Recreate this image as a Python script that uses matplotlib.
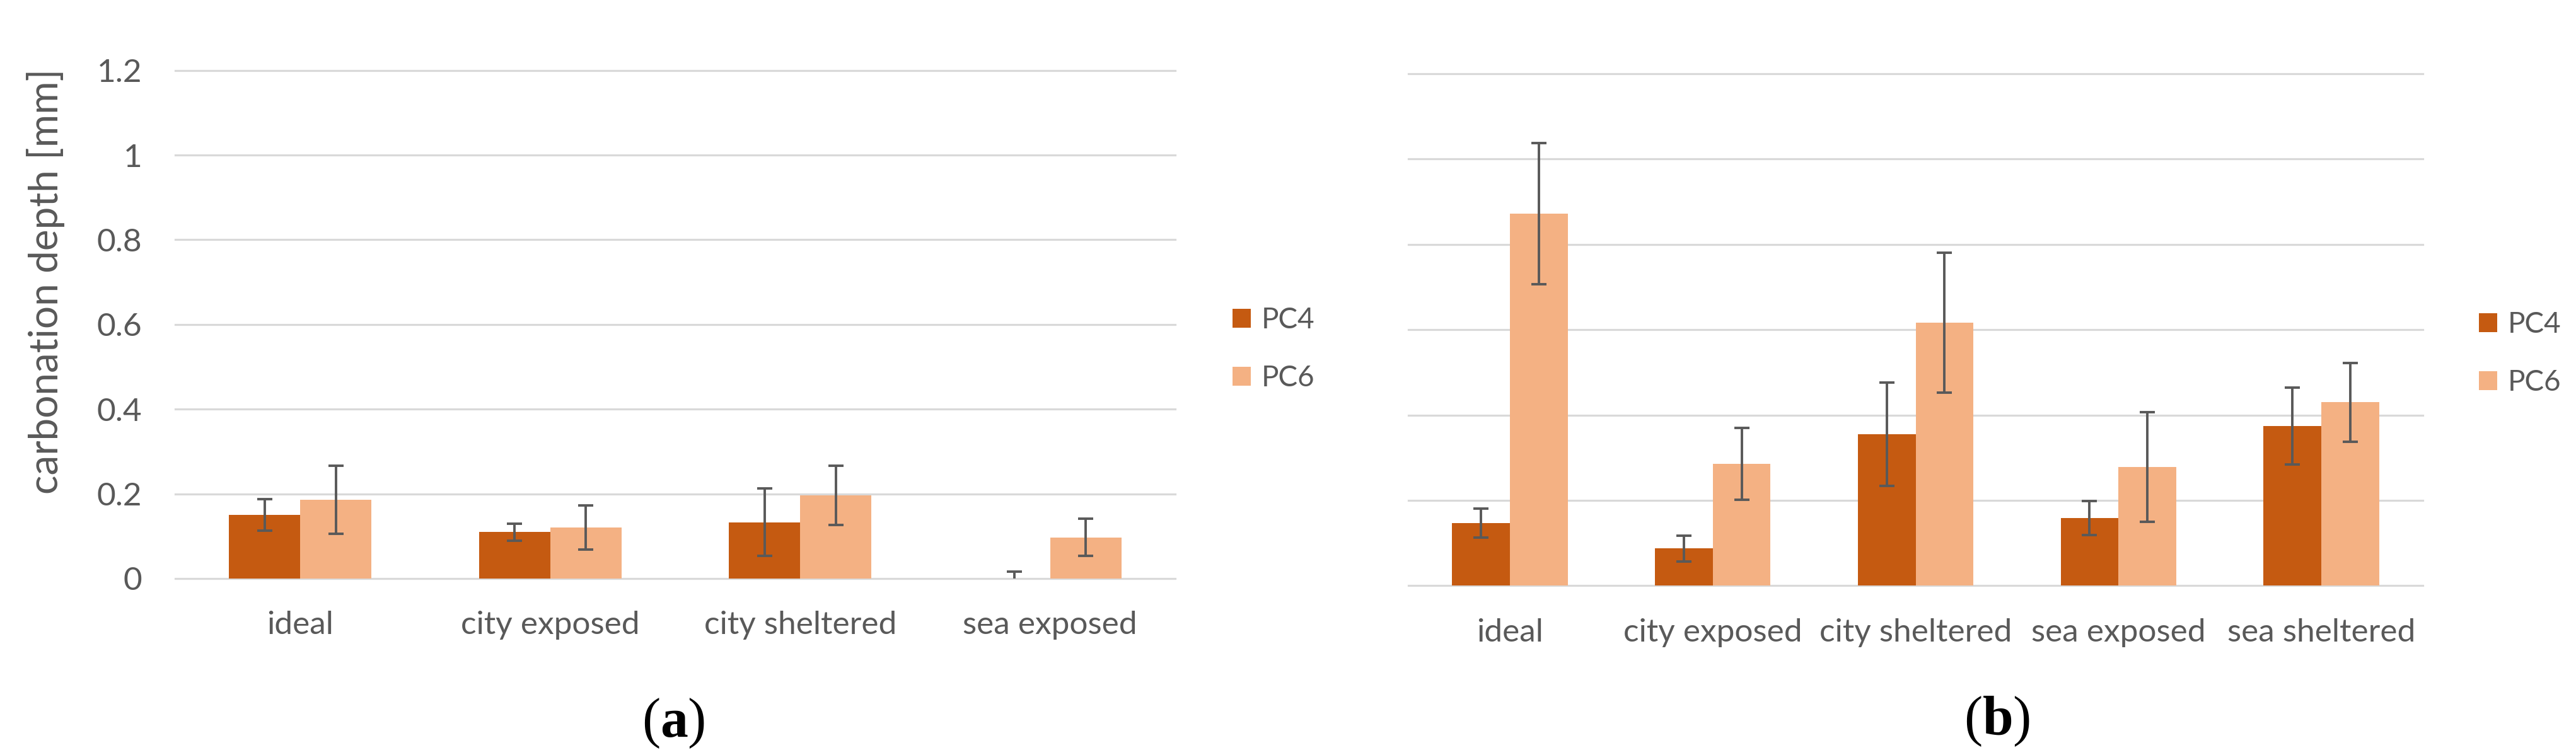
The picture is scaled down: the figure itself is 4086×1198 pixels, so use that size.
import matplotlib
matplotlib.use("Agg")
import matplotlib.pyplot as plt
import numpy as np
from matplotlib.patches import Patch

# ---------------- data ----------------
categories_a = ["ideal", "city exposed", "city sheltered", "sea exposed"]
pc4_a = [0.150, 0.110, 0.133, 0.0]
pc4_a_err = [0.037, 0.020, 0.080, 0.016]
pc6_a = [0.186, 0.121, 0.197, 0.097]
pc6_a_err = [0.080, 0.052, 0.070, 0.044]

categories_b = ["ideal", "city exposed", "city sheltered", "sea exposed", "sea sheltered"]
pc4_b = [0.147, 0.087, 0.355, 0.159, 0.374]
pc4_b_err = [0.034, 0.030, 0.121, 0.040, 0.090]
pc6_b = [0.872, 0.286, 0.617, 0.278, 0.430]
pc6_b_err = [0.166, 0.084, 0.164, 0.128, 0.092]

series_names = ["PC4", "PC6"]
y_ticks = [0, 0.2, 0.4, 0.6, 0.8, 1.0, 1.2]
y_tick_labels = ["0", "0.2", "0.4", "0.6", "0.8", "1", "1.2"]
y_label = "carbonation depth [mm]"
panel_labels = ["a", "b"]

# ---------------- style ----------------
C4 = "#C55A11"
C6 = "#F4B183"
TXT = "#595959"
GRID = "#D9D9D9"
ERR = "#595959"

plt.rcParams["font.family"] = ["Lato", "DejaVu Sans"]
plt.rcParams["mathtext.fontset"] = "custom"
plt.rcParams["mathtext.rm"] = "Liberation Serif"
plt.rcParams["mathtext.bf"] = "Liberation Serif:bold"

W, H = 4086, 1198
DPI = 100
fig = plt.figure(figsize=(W / DPI, H / DPI), dpi=DPI)
fig.patch.set_facecolor("white")


def fx(px):
    return px / W


def fy(py):
    return 1 - py / H


def make_panel(rect, cats, v4, e4, v6, e6, show_y):
    ax = fig.add_axes(rect)
    n = len(cats)
    x = np.arange(n)
    bw = 0.285
    ax.bar(x - bw / 2, v4, bw, color=C4, zorder=2, linewidth=0)
    ax.bar(x + bw / 2, v6, bw, color=C6, zorder=2, linewidth=0)
    ekw = dict(fmt="none", ecolor=ERR, elinewidth=2.8, capsize=8.3, capthick=2.8, zorder=3)
    ax.errorbar(x - bw / 2, v4, yerr=e4, **ekw)
    ax.errorbar(x + bw / 2, v6, yerr=e6, **ekw)
    ax.set_xlim(-0.5, n - 0.5)
    ax.set_ylim(0, 1.2)
    ax.set_yticks(y_ticks)
    ax.set_axisbelow(True)
    ax.yaxis.grid(True, color=GRID, linewidth=2.3)
    for gl in ax.get_ygridlines():
        gl.set_clip_on(False)
    for s in ax.spines.values():
        s.set_visible(False)
    ax.set_xticks(x)
    ax.set_xticklabels(cats, fontsize=37, color=TXT)
    ax.tick_params(axis="x", length=0, pad=37)
    if show_y:
        ax.set_yticklabels(y_tick_labels, fontsize=37, color=TXT)
        ax.tick_params(axis="y", length=0, pad=38)
    else:
        ax.set_yticklabels([])
        ax.tick_params(axis="y", length=0)
    return ax


ax_a = make_panel([fx(278), fy(918), fx(1864 - 278), (918 - 111.7) / H],
                  categories_a, pc4_a, pc4_a_err, pc6_a, pc6_a_err, True)
ax_b = make_panel([fx(2234), fy(929.3), fx(3843 - 2234), (929.3 - 117) / H],
                  categories_b, pc4_b, pc4_b_err, pc6_b, pc6_b_err, False)

fig.text(fx(73), fy(446), y_label, rotation=90, ha="center", va="center",
         fontsize=46, color=TXT)

handles = [Patch(facecolor=C4, edgecolor="none"), Patch(facecolor=C6, edgecolor="none")]
for xpx, ypx in [(1955, 554), (3932, 561)]:
    fig.legend(handles, series_names, loc="center left",
               bbox_to_anchor=(fx(xpx), fy(ypx)), frameon=False, fontsize=33,
               labelcolor=TXT, handlelength=0.63, handleheight=0.63,
               handletextpad=0.37, labelspacing=1.1, borderpad=0, borderaxespad=0)

for lab, xpx, ypx in [(panel_labels[0], 1068, 1148), (panel_labels[1], 3168, 1145)]:
    fig.text(fx(xpx), fy(ypx), "($\\mathbf{" + lab + "}$)", ha="center", va="center",
             fontsize=63, family="Liberation Serif", color="black")

fig.savefig("out.png", dpi=DPI, facecolor="white")
